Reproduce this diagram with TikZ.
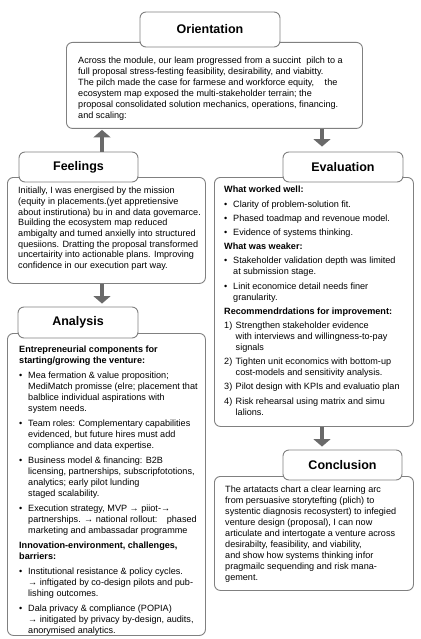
\documentclass[tikz,border=0pt]{standalone}
\usepackage{fontspec}
\setmainfont{Liberation Sans}
\usetikzlibrary{arrows.meta}
\definecolor{framegray}{HTML}{808080}
\definecolor{arrowgray}{HTML}{6A6A6A}
\newcommand{\txtsize}{\fontsize{9.1}{11}\selectfont}
\newcommand{\bl}{\makebox[9pt][l]{\textbullet}}
\newcommand{\ind}{\hspace*{9pt}}
\newcommand{\nm}[1]{\makebox[11.5pt][l]{#1)}}
\newcommand{\nind}{\hspace*{11.5pt}}
\begin{document}
\begin{tikzpicture}[x=1pt,y=-1pt,
    panel/.style={draw=framegray, line width=0.9pt, rounded corners=6pt, fill=white, anchor=north west, inner sep=0pt},
    heading/.style={panel, anchor=center, font=\fontsize{12.5}{14}\selectfont\bfseries},
    copy/.style={anchor=north west, inner sep=0pt, align=left, font=\txtsize},
    flow/.style={draw=arrowgray, line width=4.5pt, -{Triangle[width=17pt,length=7.5pt]}}]
    \useasboundingbox (0,0) rectangle (420,639);
    \coordinate (leftcol) at (102,0);
    \coordinate (rightcol) at (322,0);

    \node [panel, minimum width=296pt, minimum height=86pt] (orbody) at (66,42) {};
    \node [panel, minimum width=198pt, minimum height=106pt] (feelbody) at (7,177) {};
    \node [panel, minimum width=198pt, minimum height=302pt] (anabody) at (7,333) {};
    \node [panel, minimum width=199pt, minimum height=249pt] (evalbody) at (214,177) {};
    \node [panel, minimum width=199pt, minimum height=114pt] (concbody) at (214,476) {};

    \node [heading, minimum width=140pt, minimum height=35pt] (ortitle) at (210,29.5) {Orientation};
    \node [heading, minimum width=119pt, minimum height=30pt] (feeltitle) at (78.5,167) {Feelings};
    \node [heading, minimum width=120pt, minimum height=31pt] (anatitle) at (78,322.5) {Analysis};
    \node [heading, minimum width=120pt, minimum height=30pt] (evaltitle) at (343,167) {Evaluation};
    \node [heading, minimum width=119pt, minimum height=30pt] (conctitle) at (342.5,465) {Conclusion};

    \node [copy] (ortext) at (78,56) {\strut Across the module, our leam progressed from a succint\ \ pilch to a\\
        full proposal stress-festing feasibility, desirability, and viabitty.\\
        The pilch made the case for farmese and workforce equity,\hspace{8pt} the\\
        ecosystem map exposed the multi-stakeholder terrain; the\\
        proposal consolidated solution mechanics, operations, financing.\\
        and scaling:};

    \node [copy, font=\fontsize{9.1}{10.7}\selectfont] (feeltext) at (18,186) {\strut Initially, I was energised by the mission\\
        (equity in placements.(yet appretiensive\\
        about instirutiona) bu in and data govemarce.\\
        Building the ecosystem map reduced\\
        ambigalty and tumed anxielly into structured\\
        quesiions. Dratting the proposal transformed\\
        uncertairity into actionable plans. Improving\\
        confidence in our execution part way.};

    \node [copy] (evaltext) at (224,185) {\strut\textbf{What worked well:}\\[3.2pt]
        \bl Clarity of problem-solution fit.\\[3.2pt]
        \bl Phased toadmap and revenoue model.\\[3.2pt]
        \bl Evidence of systems thinking.\\[3.2pt]
        \textbf{What was weaker:}\\[3.2pt]
        \bl Stakeholder validation depth was limited\\
        \ind at submission stage.\\[3.2pt]
        \bl Linit economice detail needs finer\\
        \ind granularity.\\[3.2pt]
        \textbf{Recommendrdations for improvement:}\\[3.2pt]
        \nm{1}Strengthen stakeholder evidence\\
        \nind with interviews and willingness-to-pay\\
        \nind signals\\[3.2pt]
        \nm{2}Tighten unit economics with bottom-up\\
        \nind cost-models and sensitivity analysis.\\[3.2pt]
        \nm{3}Pilot design with KPIs and evaluatio plan\\[3.2pt]
        \nm{4}Risk rehearsal using matrix and simu\\
        \nind lalions.};

    \node [copy] (anatext) at (19,345) {\strut\textbf{Entrepreneurial components for}\\
        \textbf{starting/growing the venture:}\\[4pt]
        \bl Mea fermation \& value proposition;\\
        \ind MediMatch promisse (elre; placement that\\
        \ind balblice individual aspirations with\\
        \ind system needs.\\[4pt]
        \bl Team roles: Complementary capabilities\\
        \ind evidenced, but future hires must add\\
        \ind compliance and data expertise.\\[4pt]
        \bl Business model \& financing: B2B\\
        \ind licensing, partnerships, subscripfototions,\\
        \ind analytics; early pilot lunding\\
        \ind staged scalability.\\[4pt]
        \bl Execution strategy, MVP → piiot-→\\
        \ind partnerships. → national rollout:\hspace{6pt} phased\\
        \ind marketing and ambassadar programme\\[4pt]
        \textbf{Innovation-environment, challenges,}\\
        \textbf{barriers:}\\[4pt]
        \bl Institutional resistance \& policy cycles.\\
        \ind → inftigated by co-design pilots and pub-\\
        \ind lishing outcomes.\\[4pt]
        \bl Dala privacy \& compliance (POPIA)\\
        \ind → initigated by privacy by-design, audits,\\
        \ind anorymised analytics.};

    \node [copy] (conctext) at (225,485) {\strut The artatacts chart a clear learning arc\\
        from persuasive storytefting (plich) to\\
        systentic diagnosis recosystert) to infegied\\
        venture design (proposal), I can now\\
        articulate and intertogate a venture across\\
        desirabilty, feasibility, and viability,\\
        and show how systems thinking infor\\
        pragmailc sequending and risk mana-\\
        gement.};

    \draw [flow, shorten >=1pt] (feeltitle.north -| leftcol) -- (orbody.south -| leftcol);
    \draw [flow, shorten >=5pt] (orbody.south -| rightcol) -- (evaltitle.north -| rightcol);
    \draw [flow, shorten >=3pt] (feelbody.south -| leftcol) -- (anatitle.north -| leftcol);
    \draw [flow, shorten >=3pt] (evalbody.south -| rightcol) -- (conctitle.north -| rightcol);
\end{tikzpicture}
\end{document}
